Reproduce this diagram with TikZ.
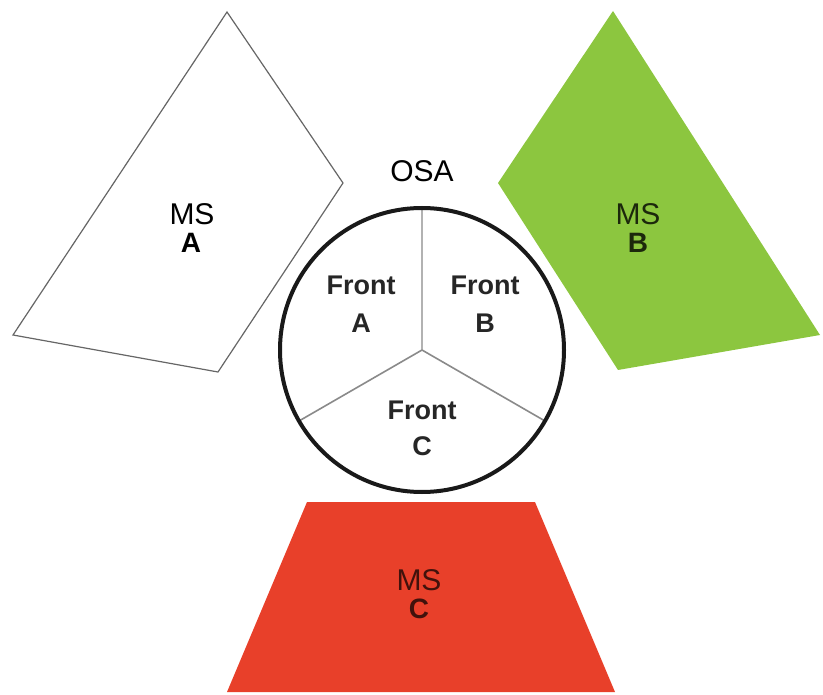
\documentclass[tikz,border=0pt]{standalone}
\usepackage{fontspec}
\setmainfont{Liberation Sans}
\definecolor{msgreen}{HTML}{8CC63F}
\definecolor{msred}{HTML}{E8402A}
\definecolor{spoke}{HTML}{8A8A8A}
\tikzset{
  mstext/.style={anchor=base, font=\fontsize{30}{34}\selectfont, inner sep=0pt},
  msletter/.style={anchor=base, font=\fontsize{28}{34}\selectfont\bfseries, inner sep=0pt},
  fronttext/.style={anchor=base, font=\fontsize{27}{34}\selectfont\bfseries, inner sep=0pt, text=black!85},
  spokeline/.style={draw=spoke, line width=1.6pt},
}
\begin{document}
\begin{tikzpicture}[x=1pt,y=-1pt]
\useasboundingbox (0,0) rectangle (823,695);
% MS A
\draw[draw=black!60, line width=1.2pt, fill=white] (227,12) -- (343,183) -- (218,372) -- (13,335) -- cycle;
\node[mstext] (msa) at (192,225) {MS};
\node[msletter] (msal) at (191,253) {A};
% MS B
\fill[msgreen] (613,11) -- (820,335) -- (618,370) -- (498,183) -- cycle;
\node[mstext, text=black!80!msgreen] (msb) at (638,225) {MS};
\node[msletter, text=black!80!msgreen] (msbl) at (638,253) {B};
% MS C
\fill[msred] (307,502) -- (535,502) -- (615,692) -- (227,692) -- cycle;
\node[mstext, text=black!72!msred] (msc) at (419,590) {MS};
\node[msletter, text=black!72!msred] (mscl) at (419,618) {C};
% OSA circle
\coordinate (c) at (422,350);
\fill[white] (c) circle[radius=142];
\draw[spokeline, draw=black!30] (c) -- (422,208);
\draw[spokeline] (c) -- (299,421);
\draw[spokeline] (c) -- (545,421);
\draw[line width=4pt, black!90] (c) circle[radius=142];
\node[anchor=base, font=\fontsize{30}{34}\selectfont, inner sep=0pt] (osa) at (422,182) {OSA};
\node[fronttext] (fa) at (361,295) {Front};
\node[fronttext] (fal) at (361,333) {A};
\node[fronttext] (fb) at (485,295) {Front};
\node[fronttext] (fbl) at (485,333) {B};
\node[fronttext] (fc) at (422,420) {Front};
\node[fronttext] (fcl) at (422,455) {C};
\end{tikzpicture}
\end{document}
